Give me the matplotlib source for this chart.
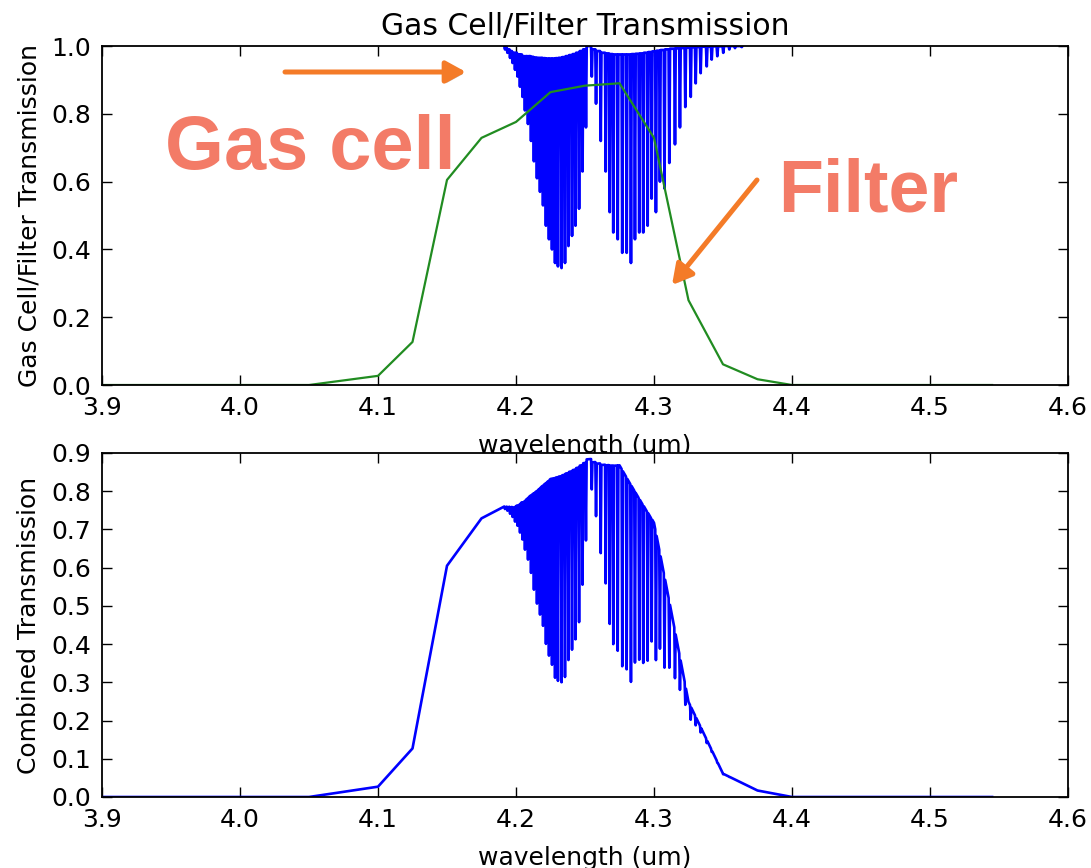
import numpy as np
import matplotlib
matplotlib.use("Agg")
import matplotlib.pyplot as plt
import matplotlib.patheffects as pe

# ---------------- data ----------------
# Filter transmission (green curve)
filter_wl = [3.9, 4.05, 4.1, 4.125, 4.15, 4.175, 4.2, 4.225, 4.25, 4.275,
             4.3, 4.325, 4.35, 4.375, 4.4, 4.545]
filter_T = [0.0, 0.0, 0.027, 0.127, 0.605, 0.729, 0.776, 0.864, 0.883, 0.89,
            0.729, 0.25, 0.061, 0.017, 0.0, 0.0]

# Gas cell absorption lines: R branch (short-wavelength side)
r_line_wl = [4.1920, 4.1938, 4.1957, 4.1975, 4.1993, 4.2011, 4.2029, 4.2047,
             4.2065, 4.2087, 4.2109, 4.2130, 4.2152, 4.2174, 4.2196, 4.2217,
             4.2239, 4.2261, 4.2283, 4.2304, 4.2330, 4.2355, 4.2380, 4.2406,
             4.2431, 4.2457, 4.2482, 4.2507]
r_line_min = [0.99, 0.98, 0.965, 0.95, 0.93, 0.91, 0.88, 0.85,
              0.81, 0.77, 0.72, 0.66, 0.61, 0.57, 0.53, 0.47,
              0.43, 0.40, 0.36, 0.35, 0.345, 0.36, 0.41, 0.44,
              0.47, 0.52, 0.63, 0.76]
# P branch (long-wavelength side)
p_line_wl = [4.2549, 4.2580, 4.2614, 4.2650, 4.2679, 4.2705, 4.2737, 4.2770,
             4.2802, 4.2833, 4.2862, 4.2893, 4.2922, 4.2954, 4.2983, 4.3014,
             4.3043, 4.3076, 4.3111, 4.3152, 4.3188, 4.3227, 4.3266, 4.3302,
             4.3338, 4.3382, 4.3418, 4.3459, 4.3502, 4.3546, 4.3587, 4.3636]
p_line_min = [0.91, 0.83, 0.72, 0.63, 0.51, 0.45, 0.43, 0.39,
              0.39, 0.36, 0.43, 0.45, 0.45, 0.47, 0.55, 0.51,
              0.60, 0.58, 0.655, 0.71, 0.76, 0.82, 0.85, 0.89,
              0.92, 0.94, 0.96, 0.97, 0.98, 0.99, 0.994, 0.997]
# Transmission between the lines (before first line, between each pair, after last)
gap_T = ([1.0] +
         [0.995, 0.99, 0.985, 0.98, 0.98, 0.975, 0.975, 0.97, 0.97, 0.97,
          0.968, 0.966, 0.965, 0.965, 0.964, 0.963, 0.963, 0.963, 0.964, 0.965,
          0.967, 0.97, 0.973, 0.976, 0.98, 0.985, 0.99] +
         [1.0] +
         [0.99, 0.985, 0.98, 0.978, 0.976, 0.975, 0.975, 0.975, 0.975, 0.976,
          0.977, 0.978, 0.98, 0.982, 0.984, 0.986, 0.988, 0.99, 0.992, 0.993,
          0.994, 0.995, 0.996, 0.997, 0.998, 0.998, 0.999, 0.999, 1.0, 1.0, 1.0] +
         [1.0])

xticks = [3.9, 4.0, 4.1, 4.2, 4.3, 4.4, 4.5, 4.6]

# ---------------- build gas-cell spectrum ----------------
line_wl = np.array(r_line_wl + p_line_wl)
line_min = np.array(r_line_min + p_line_min)
hw = 0.0005  # half width of each absorption dip
gas_wl, gas_T = [], []
for i, (c, m) in enumerate(zip(line_wl, line_min)):
    gas_wl += [c - hw, c, c + hw]
    gas_T += [gap_T[i], m, gap_T[i + 1]]
gas_wl = np.array(gas_wl)
gas_T = np.array(gas_T)

# combined = gas cell x filter on the union grid
comb_wl = np.union1d(gas_wl, np.array(filter_wl))
comb_T = (np.interp(comb_wl, gas_wl, gas_T, left=1.0, right=1.0) *
          np.interp(comb_wl, filter_wl, filter_T))

# ---------------- plot ----------------
W, H = 1091, 868
fig = plt.figure(figsize=(W / 100, H / 100), dpi=100)
plt.rcParams['font.family'] = ['DejaVu Sans']

def fx(px):
    return px / W

def fy(py):
    return 1 - py / H

L, R = 102, 1068
ax1 = fig.add_axes([fx(L), fy(385), fx(R - L), (385 - 46) / H])
ax2 = fig.add_axes([fx(L), fy(797), fx(R - L), (797 - 453) / H])

ax1.plot(gas_wl, gas_T, color=(0, 0, 1), lw=2.0)
ax1.plot(filter_wl, filter_T, color=(0.13, 0.55, 0.13), lw=1.6)
ax2.plot(comb_wl, comb_T, color=(0, 0, 1), lw=1.9)

ax1.set_xlim(3.9, 4.6)
ax1.set_ylim(0, 1.0)
ax1.set_yticks([0.0, 0.2, 0.4, 0.6, 0.8, 1.0])
ax2.set_xlim(3.9, 4.6)
ax2.set_ylim(0, 0.9)
ax2.set_yticks(np.round(np.arange(0, 0.91, 0.1), 1))

for ax in (ax1, ax2):
    ax.set_xticks(xticks)
    ax.xaxis.set_major_formatter(matplotlib.ticker.FormatStrFormatter('%.1f'))
    ax.yaxis.set_major_formatter(matplotlib.ticker.FormatStrFormatter('%.1f'))
    ax.tick_params(direction='in', top=True, right=True, length=7, width=1,
                   labelsize=18, pad=8)
    for s in ax.spines.values():
        s.set_linewidth(1.3)
    ax.set_xlabel('wavelength (um)', fontsize=18, labelpad=10)

ax1.set_title('Gas Cell/Filter Transmission', fontsize=21.5, pad=8)
ax1.set_ylabel('Gas Cell/Filter Transmission', fontsize=18, labelpad=7)
ax2.set_ylabel('Combined Transmission', fontsize=18, labelpad=7)

# ---------------- annotations ----------------
txt_color = '#F37B67'
arr_color = '#F47B28'
fig.text(fx(165), fy(169), 'Gas cell', color=txt_color, fontsize=54.5,
         fontweight='bold', family='Liberation Sans', ha='left', va='baseline')
fig.text(fx(778), fy(212), 'Filter', color=txt_color, fontsize=53,
         fontweight='bold', family='Liberation Sans', ha='left', va='baseline')

shadow = [pe.SimplePatchShadow(offset=(1.5, -1.5), alpha=0.3), pe.Normal()]
for (x0, y0, x1, y1) in [(285, 72, 466, 72), (757, 180, 672, 285)]:
    a = fig.add_artist(matplotlib.patches.FancyArrowPatch(
        (fx(x0), fy(y0)), (fx(x1), fy(y1)), transform=fig.transFigure,
        arrowstyle='-|>,head_length=0.6,head_width=0.33', mutation_scale=20,
        color=arr_color, lw=3.6, shrinkA=0, shrinkB=0))
    a.set_path_effects(shadow)

fig.savefig('out.png', dpi=100)
